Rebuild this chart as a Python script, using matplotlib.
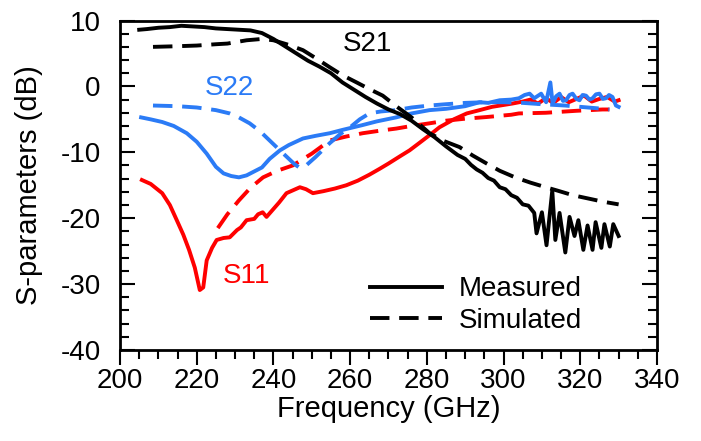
import matplotlib
matplotlib.use("Agg")
import matplotlib.pyplot as plt
from matplotlib.lines import Line2D
from matplotlib.ticker import MultipleLocator

plt.rcParams['font.family'] = ['Liberation Sans', 'DejaVu Sans']
plt.rcParams['axes.unicode_minus'] = False

# --- data (frequency in GHz, level in dB) ---
s21_meas_f = [205, 207, 210, 213, 216, 219, 222, 225, 228, 231, 234, 237, 240, 243,
              246, 249, 252, 255, 258, 261, 264, 267, 270, 273, 276, 279, 282, 285,
              288, 290, 291.5, 293, 294.5, 296, 297.5, 299, 300.5, 302, 303.5, 305,
              306.5, 308, 308.6, 310, 311.2, 312.7, 313.5, 314.6, 316.1, 317.2, 318.5,
              319.5, 320.8, 321.9, 323.2, 324, 325.5, 326.3, 327.7, 328.6, 330]
s21_meas = [8.6, 8.7, 8.9, 9.0, 9.2, 9.1, 9.0, 8.8, 8.7, 8.6, 8.5, 8.1, 7.2, 6.1,
            5.0, 3.9, 3.0, 2.0, 0.6, -0.5, -1.6, -2.6, -3.5, -4.2, -5.2, -6.5, -7.7, -9.1,
            -10.4, -11.0, -11.9, -12.6, -13.1, -13.9, -14.3, -15.3, -15.6, -16.5, -16.9, -17.9,
            -18.1, -19.2, -22.3, -19.1, -24.1, -15.8, -23.3, -19.2, -25.2, -19.8, -22.7,
            -20.3, -24.8, -21.1, -24.8, -20.6, -24.5, -20.9, -24.3, -20.9, -22.7]

s21_sim_f = [208.6, 215, 220, 225, 228, 233, 237, 240, 244, 247.7, 251, 254.7, 258,
             261.7, 265, 268.5, 272, 276, 280.7, 284.5, 288.5, 292, 295.6, 299, 303,
             307, 311, 314, 318, 322, 326, 330]
s21_sim = [6.0, 6.1, 6.2, 6.4, 6.5, 7.0, 7.2, 7.0, 6.3, 5.5, 4.3, 2.9, 1.7,
           0.6, -0.4, -1.4, -3.0, -4.7, -7.1, -8.3, -9.2, -10.5, -11.7, -12.8, -13.8,
           -14.6, -15.3, -15.8, -16.5, -17.0, -17.5, -17.9]

s22_meas_f = [205.5, 208, 211, 214, 217.4, 220, 222.6, 225, 227, 229, 231, 233, 235,
              237, 239, 241.7, 244, 247.7, 251, 254.7, 258, 263, 267, 272, 276, 280.7,
              285, 290, 293.75, 296, 299, 302, 304, 305.5, 306.8, 308, 309.8, 311.1,
              312.2, 312.8, 313.7, 314.6, 315.5, 316.3, 317.2, 318, 319, 319.8, 320.6,
              321.5, 322.4, 323.2, 324.1, 325, 325.9, 326.7, 327.5, 328.4, 329.3, 330]
s22_meas = [-4.7, -5.0, -5.4, -6.0, -7.1, -8.4, -10.2, -12.2, -13.2, -13.6, -13.8, -13.5, -12.9,
            -12.3, -11.0, -9.7, -8.9, -7.9, -7.5, -7.1, -6.6, -5.9, -5.3, -4.7, -4.1, -3.6,
            -3.4, -3.0, -2.4, -2.5, -2.1, -2.0, -1.8, -1.3, -1.1, -1.8, -1.1, -2.4,
            0.6, -2.6, -1.5, -1.1, -2.2, -2.1, -1.3, -1.1, -1.9, -2.1, -1.3,
            -1.4, -2.0, -1.8, -1.2, -1.1, -1.9, -1.8, -1.3, -1.6, -2.9, -3.1]

s22_sim_f = [208.6, 215, 220, 225, 228.6, 231, 233.8, 236.5, 239, 241.5, 243.5, 245.5,
             247, 248.5, 251, 254.7, 257.5, 260, 262.5, 265, 268, 272, 276, 280.7, 285,
             290, 295, 300, 305, 310, 316, 320, 324, 327.6]
s22_sim = [-2.9, -3.0, -3.2, -3.6, -4.1, -4.7, -5.6, -6.8, -8.2, -9.6, -10.7, -11.8,
           -12.4, -12.0, -10.7, -8.6, -7.2, -6.2, -5.0, -4.1, -3.8, -3.6, -3.2, -2.9, -2.7,
           -2.5, -2.4, -2.4, -2.5, -2.7, -2.9, -3.1, -3.3, -3.5]

s11_meas_f = [205.7, 208, 211, 213, 214.8, 216.5, 218, 219.5, 220.8, 221.7, 222.6, 224,
              225.2, 227, 228.6, 230.5, 231.5, 233, 235, 236, 237.2, 238.2, 240, 241.5,
              243.4, 246.9, 248.5, 250.3, 253, 256, 259, 262, 265, 267.7, 270, 273, 275.5,
              278, 280.7, 283.3, 287, 290.4, 293.75, 297, 302.3, 305, 307, 309, 311, 313,
              315, 317, 319, 321, 323, 325, 327, 329, 330]
s11_meas = [-14.2, -14.8, -16.2, -18.0, -20.3, -22.5, -24.8, -27.5, -30.9, -30.5, -26.4, -24.5,
            -23.3, -23.0, -22.9, -21.8, -21.4, -20.3, -20.1, -19.4, -19.1, -19.8, -18.6, -17.6,
            -16.2, -15.3, -15.6, -16.2, -15.9, -15.5, -15.0, -14.3, -13.4, -12.5, -11.7, -10.6,
            -9.7, -8.6, -7.4, -6.2, -5.0, -4.1, -3.6, -3.1, -2.6, -2.3, -2.0, -2.6, -1.8, -2.5,
            -1.6, -2.4, -1.9, -1.4, -2.3, -1.9, -1.6, -2.3, -2.1]

s11_sim_f = [225.5, 228, 231, 234, 237.3, 241, 245, 250, 254.7, 259, 263.3, 268, 272,
             276, 280.7, 285, 290, 295.5, 302, 304, 311, 319, 325.8, 327.6]
s11_sim = [-21.5, -19.4, -17.3, -15.4, -13.8, -12.8, -12.0, -10.2, -8.2, -7.6, -7.1, -6.7, -6.4,
           -6.0, -5.6, -5.2, -4.9, -4.65, -4.3, -4.1, -4.0, -3.7, -3.5, -3.5]

RED = '#ff0000'
BLUE = '#2b7bf6'
LW = 2.8
DASH = (5.0, 2.5)

fig = plt.figure(figsize=(7.01, 4.41), dpi=100)
ax = fig.add_axes([0.1712, 0.2063, 0.766, 0.7472])

ax.plot(s11_sim_f, s11_sim, color=RED, lw=LW, dashes=DASH)
ax.plot(s11_meas_f, s11_meas, color=RED, lw=LW)
ax.plot(s22_sim_f, s22_sim, color=BLUE, lw=LW, dashes=DASH)
ax.plot(s22_meas_f, s22_meas, color=BLUE, lw=LW)
ax.plot(s21_sim_f, s21_sim, color='black', lw=LW, dashes=DASH)
ax.plot(s21_meas_f, s21_meas, color='black', lw=LW)

ax.text(264.6, 6.4, 'S21', color='black', fontsize=20, ha='center', va='center')
ax.text(228.6, -0.3, 'S22', color=BLUE, fontsize=20, ha='center', va='center')
ax.text(233, -28.8, 'S11', color=RED, fontsize=20, ha='center', va='center')

handles = [Line2D([], [], color='black', lw=LW),
           Line2D([], [], color='black', lw=LW, dashes=DASH)]
ax.legend(handles, ['Measured', 'Simulated'], loc='center left',
          bbox_to_anchor=(0.465, 0.136), frameon=False, fontsize=20,
          handlelength=2.6, handletextpad=0.6, labelspacing=0.2,
          borderpad=0, borderaxespad=0)

ax.set_xlim(200, 340)
ax.set_ylim(-40, 10)
ax.xaxis.set_major_locator(MultipleLocator(20))
ax.xaxis.set_minor_locator(MultipleLocator(5))
ax.yaxis.set_major_locator(MultipleLocator(10))
ax.yaxis.set_minor_locator(MultipleLocator(2))

for s in ax.spines.values():
    s.set_linewidth(2.0)
ax.tick_params(axis='x', which='both', direction='out', top=False, width=1.5, labelsize=20, pad=2)
ax.tick_params(axis='x', which='major', length=11)
ax.tick_params(axis='x', which='minor', length=6.5)
ax.tick_params(axis='y', which='both', direction='in', left=True, right=True, width=1.5,
               labelsize=20, pad=14)
ax.tick_params(axis='y', which='major', length=11)
ax.tick_params(axis='y', which='minor', length=6.5)

ax.set_xlabel('Frequency (GHz)', fontsize=21)
ax.set_ylabel('S-parameters (dB)', fontsize=21)
ax.xaxis.set_label_coords(0.5, -0.135)
ax.yaxis.set_label_coords(-0.143, 0.5)

fig.savefig('out.png', dpi=100)
